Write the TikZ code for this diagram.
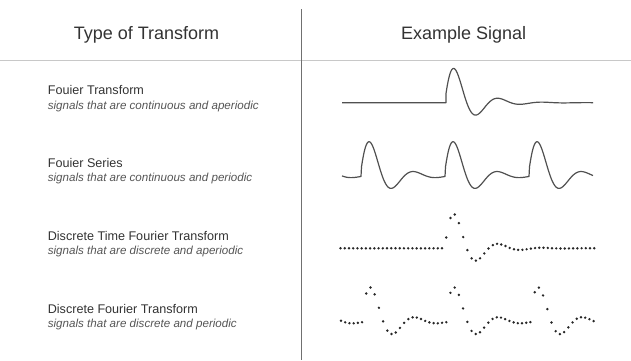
\documentclass[tikz,border=0pt]{standalone}
\usepackage{fontspec}
\setmainfont{Liberation Sans}
\usepackage{xcolor}
\definecolor{textgray}{HTML}{333333}
\definecolor{subgray}{HTML}{555555}
\definecolor{rulegray}{HTML}{C8C8C8}
\definecolor{dividergray}{HTML}{707070}
\definecolor{wavegray}{HTML}{505050}

\begin{document}
\begin{tikzpicture}[
    x=1bp, y=-1bp,
    declare function={
      pulse(\t)=51.1*exp(-\t/21.6)*sin(8.18*\t+10.3);
      onepulse(\t)=(\t<0) ? 0 : pulse(\t);
      train(\x,\s)=pulse(Mod(\x-\s,84));
    },
    head/.style={anchor=base, text=textgray, font=\fontsize{18bp}{20bp}\selectfont},
    kind/.style={anchor=base west, text=textgray, font=\fontsize{12.6bp}{14bp}\selectfont},
    note/.style={anchor=base west, text=subgray, font=\fontsize{11.6bp}{13bp}\selectfont\itshape},
    wave/.style={draw=wavegray, line width=1.2bp, line join=round},
    sample/.style={fill=black!85}
  ]
  \useasboundingbox (0,0) rectangle (631,360);

  % table rules
  \draw[rulegray, line width=0.9bp] (0,60) -- (631,60);
  \draw[dividergray, line width=0.9bp] (301,9) -- (301,360);

  % headings
  \node[head] (typehead) at (146.5,39.3) {Type of Transform};
  \node[head] (signalhead) at (463.6,39.3) {Example Signal};

  % left column
  \node[kind] (ft) at (44.3,94) {Fouier Transform};
  \node[note] (ftnote) at (44.3,109) {signals that are continuous and aperiodic};
  \node[kind] (fs) at (44.3,167.3) {Fouier Series};
  \node[note] (fsnote) at (44.3,181.7) {signals that are continuous and periodic};
  \node[kind] (dtft) at (44.3,240) {Discrete Time Fourier Transform};
  \node[note] (dtftnote) at (44.3,254.3) {signals that are discrete and aperiodic};
  \node[kind] (dft) at (44.3,313.3) {Discrete Fourier Transform};
  \node[note] (dftnote) at (44.3,327.7) {signals that are discrete and periodic};

  % continuous signals
  \draw[wave] (342,102.7) -- (446,102.7)
    -- plot[domain=446:593, samples=300] (\x,{102.7-pulse(\x-446)});
  \draw[wave] plot[domain=342:593, samples=503] (\x,{176-train(\x,361.5)});

  % sampled signals
  \foreach \i in {0,...,60}
    \fill[sample] ({340.5+4.23*\i},{248.3-onepulse(340.5+4.23*\i-446)}) circle[radius=1.35bp];
  \foreach \i in {0,...,60}
    \fill[sample] ({341+4.21*\i},{321.7-train(341+4.21*\i,362.5)}) circle[radius=1.35bp];
\end{tikzpicture}
\end{document}
